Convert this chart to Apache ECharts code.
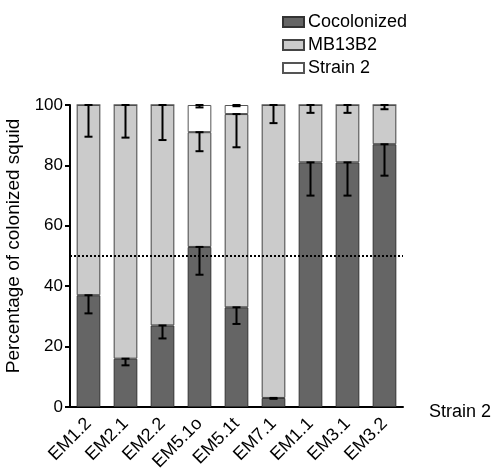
<!DOCTYPE html>
<html>
<head>
<meta charset="utf-8">
<script src="https://cdn.jsdelivr.net/npm/echarts@6/dist/echarts.min.js"></script>
<style>
  html, body { margin: 0; padding: 0; background: #fff; }
  #main { width: 493px; height: 468px; }
</style>
</head>
<body>
<div id="main"></div>
<script>
var strains = ['EM1.2', 'EM2.1', 'EM2.2', 'EM5.1o', 'EM5.1t', 'EM7.1', 'EM1.1', 'EM3.1', 'EM3.2'];
var cocolonized = [37, 16, 27, 53, 33, 3, 81, 81, 87];
var mb13b2 = [63, 84, 73, 38, 64, 97, 19, 19, 13];
var strain2 = [0, 0, 0, 9, 3, 0, 0, 0, 0];
// error bars drawn downward from the top of each segment
var errCocolonized = [6, 2.2, 4.3, 9.2, 5.5, 0.3, 11, 11, 10.4];
var errMb13b2 = [10.5, 10.8, 11.6, 6.3, 11, 6, 2.6, 2.6, 1.4];
var errStrain2 = [0, 0, 0, 0.8, 0.4, 0, 0, 0, 0];
var yTicks = [0, 20, 40, 60, 80, 100];

var myChart = echarts.init(document.getElementById('main'));

// build [category, segment top, lower end of error] for the error bar series
var errData = [];
strains.forEach(function (s, i) {
  var t1 = cocolonized[i];
  var t2 = t1 + mb13b2[i];
  var t3 = t2 + strain2[i];
  errData.push([i, t1, t1 - errCocolonized[i]]);
  errData.push([i, t2, t2 - errMb13b2[i]]);
  if (strain2[i] > 0) errData.push([i, t3, t3 - errStrain2[i]]);
});

function renderErr(params, api) {
  var top = api.coord([api.value(0), api.value(1)]);
  var low = api.coord([api.value(0), api.value(2)]);
  var cap = 4;
  var style = { stroke: '#000', lineWidth: 2 };
  return {
    type: 'group',
    children: [
      { type: 'line', shape: { x1: top[0], y1: top[1], x2: low[0], y2: low[1] }, style: style },
      { type: 'line', shape: { x1: top[0] - cap, y1: top[1], x2: top[0] + cap, y2: top[1] }, style: style },
      { type: 'line', shape: { x1: low[0] - cap, y1: low[1], x2: low[0] + cap, y2: low[1] }, style: style }
    ]
  };
}

var font = 'Liberation Sans, Arial, sans-serif';

option = {
  animation: false,
  textStyle: { fontFamily: font },
  legend: {
    orient: 'vertical',
    left: 282,
    top: 13,
    padding: 0,
    icon: 'rect',
    itemWidth: 21,
    itemHeight: 10,
    itemGap: 5,
    textStyle: { fontSize: 18, color: '#000', fontFamily: font, padding: [0, 0, 0, -1] },
    data: ['Cocolonized', 'MB13B2', 'Strain 2']
  },
  grid: { left: 70, top: 105, width: 333, height: 302, outerBoundsMode: 'none' },
  xAxis: {
    type: 'category',
    data: strains,
    name: 'Strain 2',
    nameLocation: 'end',
    nameGap: 26,
    nameTextStyle: { fontSize: 18, color: '#000', verticalAlign: 'top', lineHeight: 10 },
    axisLine: { lineStyle: { color: '#000', width: 2 } },
    axisTick: { alignWithLabel: true, length: 5, lineStyle: { color: '#000', width: 2 } },
    axisLabel: { rotate: 45, fontSize: 18, color: '#000', margin: 14 }
  },
  yAxis: {
    type: 'value',
    min: yTicks[0],
    max: yTicks[yTicks.length - 1],
    interval: 20,
    name: 'Percentage of colonized squid',
    nameLocation: 'middle',
    nameGap: 43,
    nameTextStyle: { fontSize: 19, color: '#000', padding: [0, 0, 0, 20] },
    axisLine: { show: true, lineStyle: { color: '#000', width: 2 } },
    axisTick: { show: true, length: 5, lineStyle: { color: '#000', width: 2 } },
    axisLabel: { fontSize: 17, color: '#000', margin: 7 },
    splitLine: { show: false }
  },
  series: [
    {
      name: 'Cocolonized',
      type: 'bar',
      stack: 'all',
      barWidth: '64%',
      data: cocolonized,
      itemStyle: { color: '#656565', borderColor: '#333', borderWidth: 1 },
      markLine: {
        silent: true,
        symbol: 'none',
        label: { show: false },
        lineStyle: { color: '#000', type: 'dotted', width: 2 },
        data: [{ yAxis: 50 }],
        z: 10
      }
    },
    {
      name: 'MB13B2',
      type: 'bar',
      stack: 'all',
      data: mb13b2,
      itemStyle: { color: '#cbcbcb', borderColor: '#444', borderWidth: 1 }
    },
    {
      name: 'Strain 2',
      type: 'bar',
      stack: 'all',
      data: strain2,
      itemStyle: { color: '#ffffff', borderColor: '#555', borderWidth: 1 }
    },
    {
      type: 'custom',
      renderItem: renderErr,
      data: errData,
      z: 5,
      encode: { x: 0, y: [1, 2] }
    }
  ]
};

myChart.setOption(option);
</script>
</body>
</html>
